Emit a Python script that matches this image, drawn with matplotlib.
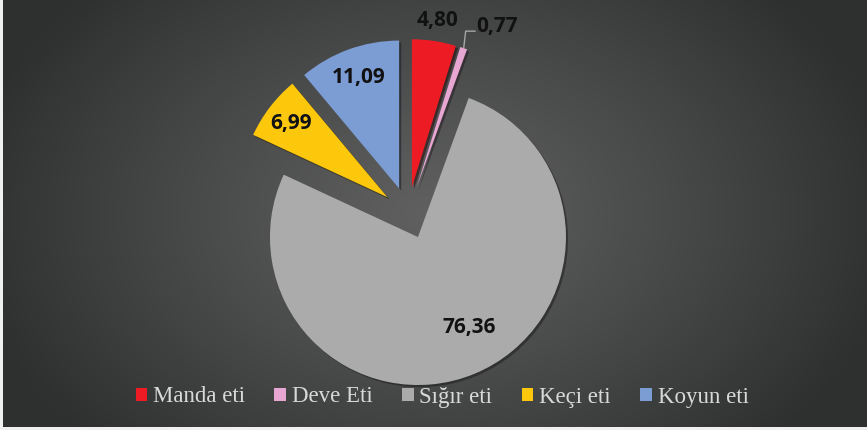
import numpy as np
import matplotlib.pyplot as plt
from matplotlib.patches import Patch, Rectangle

labels = ['Manda eti', 'Deve Eti', 'Sığır eti', 'Keçi eti', 'Koyun eti']
values = [4.80, 0.77, 76.36, 6.99, 11.09]
colors = ['#ed1c24', '#e8a6d2', '#ababab', '#fdc70c', '#7c9cd4']

W, H = 867, 430
fig = plt.figure(figsize=(W / 100, H / 100), dpi=100)
ax = fig.add_axes([0, 0, 1, 1])

# dark radial background
yy, xx = np.mgrid[0:H, 0:W]
d = np.sqrt(((xx - 430) / 470.0) ** 2 + ((yy - 215) / 330.0) ** 2)
t = np.clip(d, 0, 1) ** 1.1
c0 = np.array([0x60, 0x60, 0x60]) / 255.0
c1 = np.array([0x2e, 0x30, 0x30]) / 255.0
img = c0 + (c1 - c0) * t[..., None]
ax.imshow(img, extent=[0, W, 0, H], origin='lower', zorder=0)

center = (408, 217)
radius = 148
wedges, _ = ax.pie(values, colors=colors, startangle=90, counterclock=False,
                   explode=[26] * len(values), center=center, radius=radius,
                   shadow={'ox': 1.5, 'oy': -1.5, 'shade': 0.85},
                   wedgeprops=dict(linewidth=0), frame=True)
for w in wedges:
    w.set_zorder(3)

ax.set_xlim(0, W)
ax.set_ylim(0, H)
ax.set_aspect('equal')
ax.axis('off')

fmt = lambda v: f'{v:.2f}'.replace('.', ',')
lab_font = dict(family='Open Sans', weight='bold', size=15, color='#111111')

# label distance (in radii) and small angle nudge (deg) per slice
lab_dist = [1.14, None, 0.70, 0.82, 0.80]
lab_nudge = [0, 0, 7, 0, 0]
for i, w in enumerate(wedges):
    th = np.deg2rad((w.theta1 + w.theta2) / 2 + lab_nudge[i])
    cx, cy = w.center
    if lab_dist[i] is None:
        # leader line for the thin slice
        x0 = cx + radius * np.cos(th)
        y0 = cy + radius * np.sin(th)
        x1, y1 = x0 + 2, y0 + 17
        x2 = x1 + 10
        ax.plot([x0, x1, x2], [y0, y1, y1], color='#a6a6a6', lw=1, zorder=4,
                solid_capstyle='butt')
        ax.text(x2 + 1, y1 + 5, fmt(values[i]), ha='left', va='center',
                zorder=5, **lab_font)
        continue
    ax.text(cx + lab_dist[i] * radius * np.cos(th),
            cy + lab_dist[i] * radius * np.sin(th),
            fmt(values[i]), ha='center', va='center', zorder=5, **lab_font)

handles = [Patch(facecolor=c, edgecolor='none') for c in colors]
leg = fig.legend(handles, labels, loc='center', ncol=len(labels),
                 bbox_to_anchor=(442 / W, 33 / H), frameon=False,
                 prop=dict(family='Liberation Serif', size=16.5),
                 labelcolor='#d9d9d9', handlelength=0.5, handleheight=0.5,
                 handletextpad=0.25, columnspacing=1.3)

# thin light strip on left and bottom edges
ax.add_patch(Rectangle((0, 0), 3, H, facecolor='#f0f0f0', edgecolor='none', zorder=6))
ax.add_patch(Rectangle((0, 0), W, 3, facecolor='#f0f0f0', edgecolor='none', zorder=6))

fig.savefig('out.png', dpi=100)
